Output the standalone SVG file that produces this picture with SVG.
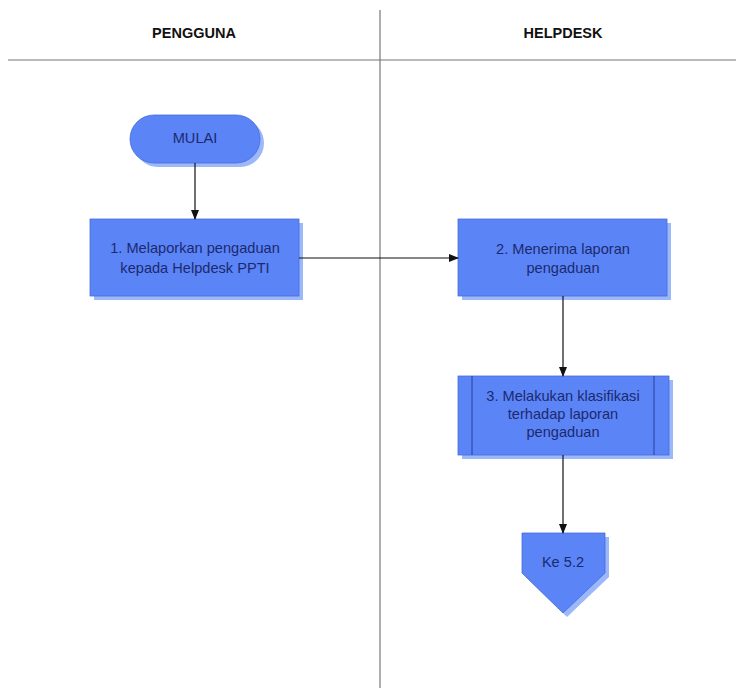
<svg xmlns="http://www.w3.org/2000/svg" width="736" height="688" viewBox="0 0 736 688">
<style>
.lane{stroke:#777;stroke-width:1.2;fill:none}
.hdr{font-family:"Liberation Sans",Arial,sans-serif;font-size:14.5px;font-weight:bold;fill:#111;text-anchor:middle}
.shape{fill:#5b84f7;stroke:#4a6ad8;stroke-width:0.8}
.shadow{fill:#9ab8fa}
.txt{font-family:"Liberation Sans",Arial,sans-serif;font-size:14.6px;fill:#1b2a6e;text-anchor:middle}
.conn{stroke:#111;stroke-width:1.2;fill:none;marker-end:url(#arr)}
.inner{stroke:#2a3f9a;stroke-width:1;fill:none}
</style>
<defs>
<marker id="arr" markerWidth="10" markerHeight="10" refX="9" refY="5" orient="auto" markerUnits="userSpaceOnUse">
<path d="M0,1 L10,5 L0,9 Z" fill="#111"/>
</marker>
</defs>
<rect width="736" height="688" fill="#fff"/>
<g id="lanes">
<line class="lane" x1="8" y1="60" x2="736" y2="60"/>
<line class="lane" x1="380" y1="10" x2="380" y2="688"/>
<text class="hdr" x="194" y="38">PENGGUNA</text>
<text class="hdr" x="563" y="38">HELPDESK</text>
</g>
<g id="mulai">
<rect class="shadow" x="134" y="119" width="130" height="48" rx="24"/>
<rect class="shape" x="130" y="115" width="130" height="48" rx="24"/>
<text class="txt" x="195" y="143">MULAI</text>
</g>
<g id="step1">
<rect class="shadow" x="94" y="223" width="209" height="77"/>
<rect class="shape" x="90" y="219" width="209" height="77"/>
<text class="txt" x="195" y="253">1. Melaporkan pengaduan</text>
<text class="txt" x="195" y="273">kepada Helpdesk PPTI</text>
</g>
<g id="step2">
<rect class="shadow" x="462" y="223" width="209" height="77"/>
<rect class="shape" x="458" y="219" width="209" height="77"/>
<text class="txt" x="563" y="254">2. Menerima laporan</text>
<text class="txt" x="563" y="273">pengaduan</text>
</g>
<g id="step3">
<rect class="shadow" x="462" y="380" width="211" height="79"/>
<rect class="shape" x="458" y="376" width="211" height="79"/>
<line class="inner" x1="472" y1="376" x2="472" y2="455"/>
<line class="inner" x1="654" y1="376" x2="654" y2="455"/>
<text class="txt" x="563" y="401">3. Melakukan klasifikasi</text>
<text class="txt" x="563" y="419">terhadap laporan</text>
<text class="txt" x="563" y="437">pengaduan</text>
</g>
<g id="offpage">
<polygon class="shadow" points="526,537 609,537 609,577 567,617 526,577"/>
<polygon class="shape" points="522,533 605,533 605,573 563,613 522,573"/>
<text class="txt" x="563" y="567">Ke 5.2</text>
</g>
<g id="connectors">
<line class="conn" x1="195" y1="163" x2="195" y2="219"/>
<line class="conn" x1="299" y1="258" x2="458" y2="258"/>
<line class="conn" x1="563" y1="296" x2="563" y2="376"/>
<line class="conn" x1="563" y1="455" x2="563" y2="533"/>
</g>
</svg>
